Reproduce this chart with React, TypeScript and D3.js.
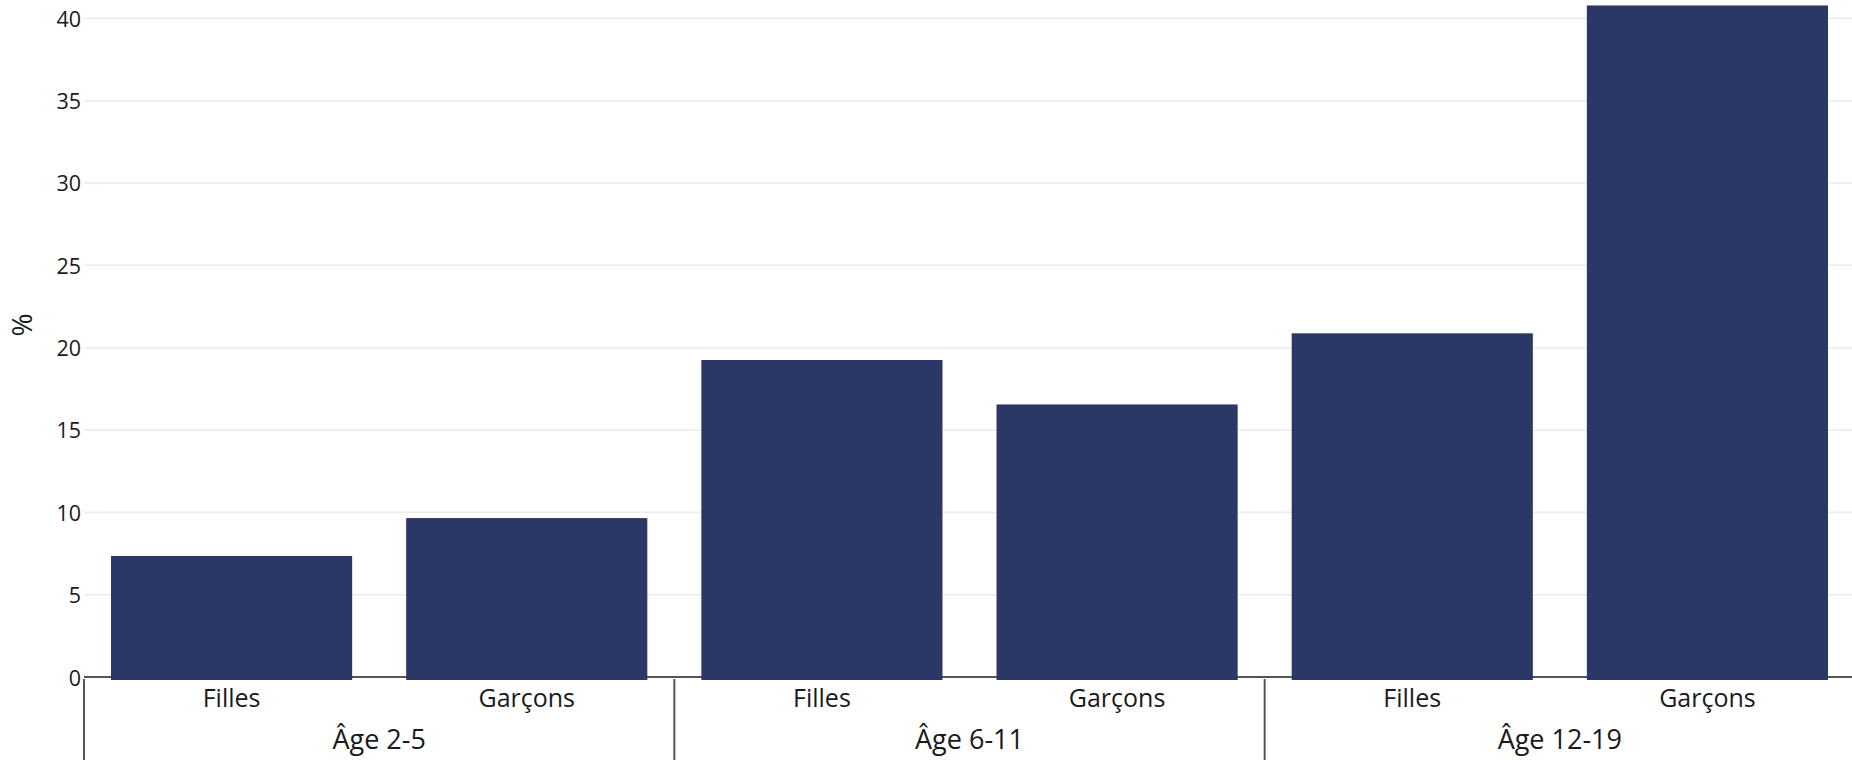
import React from "react";
import * as d3 from "d3";

const groups = ["Âge 2-5", "Âge 6-11", "Âge 12-19"];
const sexes = ["Filles", "Garçons"];
const values = [7.35, 9.65, 19.25, 16.55, 20.87, 40.78];
const yTicks = [0, 5, 10, 15, 20, 25, 30, 35, 40];
const yLabel = "%";

const W = 1852;
const H = 760;
const FONT = "'Open Sans', Lato, sans-serif";

export default function App() {
  const bars = groups.flatMap((g, gi) =>
    sexes.map((s, si) => ({ key: `${gi}-${si}`, group: g, sex: s, value: values[gi * 2 + si] }))
  );
  const x = d3
    .scaleBand<string>()
    .domain(bars.map((b) => b.key))
    .range([84, 1855])
    .paddingInner(0.183)
    .paddingOuter(0.0915);
  const y = d3.scaleLinear().domain([0, 40]).range([677, 18.3]);
  const step = x.step();
  const gap = (step * x.paddingInner()) / 2;

  return (
    <svg
      width={W}
      height={H}
      style={{ position: "absolute", left: 0, top: 0, display: "block", background: "#fff" }}
    >
      {yTicks.map((t) => (
        <g key={t}>
          {t > 0 && (
            <line x1={84} x2={W} y1={y(t)} y2={y(t)} stroke="#ebebeb" strokeWidth={1.5} />
          )}
          <text
            x={81}
            y={y(t)}
            textAnchor="end"
            dominantBaseline="central"
            fontFamily={FONT}
            fontSize={21.5}
            fill="#1a1a1a"
          >
            {t}
          </text>
        </g>
      ))}
      <text
        transform={`translate(21,325) rotate(-90)`}
        textAnchor="middle"
        dominantBaseline="central"
        fontFamily={FONT}
        fontSize={28}
        fill="#1a1a1a"
      >
        {yLabel}
      </text>
      <line x1={84} x2={W} y1={y(0)} y2={y(0)} stroke="#555" strokeWidth={2} />
      {bars.map((b) => (
        <g key={b.key}>
          <rect
            x={x(b.key)}
            y={y(b.value)}
            width={x.bandwidth()}
            height={y(0) - y(b.value) + 3}
            fill="#2b3764"
          />
          <text
            x={(x(b.key) ?? 0) + x.bandwidth() / 2}
            y={706.5}
            textAnchor="middle"
            fontFamily={FONT}
            fontSize={25}
            fill="#1a1a1a"
          >
            {b.sex}
          </text>
        </g>
      ))}
      {groups.map((g, gi) => {
        const x0 = (x(`${gi}-0`) ?? 0) - gap;
        const x1 = (x(`${gi}-1`) ?? 0) + x.bandwidth() + gap;
        return (
          <g key={g}>
            <line x1={x0} x2={x0} y1={679} y2={H} stroke="#555" strokeWidth={2} />
            <text
              x={(x0 + x1) / 2}
              y={749}
              textAnchor="middle"
              fontFamily={FONT}
              fontSize={27}
              fill="#1a1a1a"
            >
              {g}
            </text>
          </g>
        );
      })}
    </svg>
  );
}
